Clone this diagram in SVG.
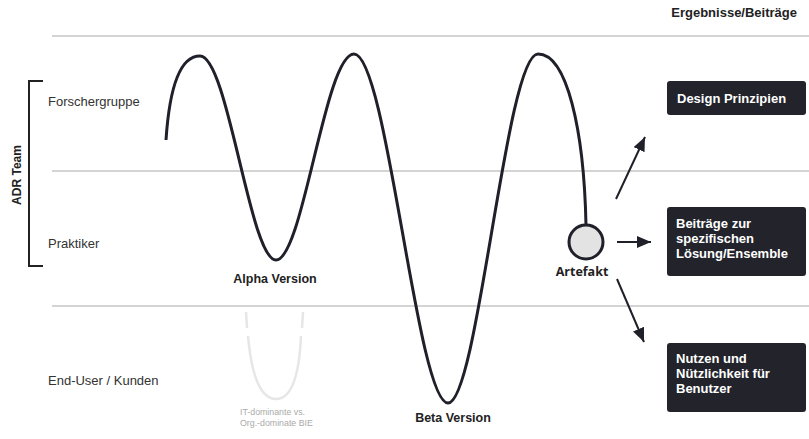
<svg xmlns="http://www.w3.org/2000/svg" width="809" height="439" viewBox="0 0 809 439">
<defs>
<style>
.grid{stroke:#c6c6c6;stroke-width:1.5;fill:none}
.lbl{font-family:"Liberation Sans",Arial,sans-serif;font-size:13px;fill:#333}
.bold{font-family:"Liberation Sans",Arial,sans-serif;font-weight:bold;fill:#222}
.box{fill:#22232b}
.boxt{font-family:"Liberation Sans",Arial,sans-serif;font-weight:bold;font-size:13px;fill:#fff}
.conn{stroke:#1f2029;stroke-width:2;fill:none}
.ghost{stroke:#e6e6e6;stroke-width:2.5;fill:none}
</style>
<marker id="ah" markerUnits="userSpaceOnUse" viewBox="0 0 14 12" refX="14" refY="6" markerWidth="14" markerHeight="12" orient="auto">
<path d="M0,0 L14,6 L0,12 Z" fill="#1f2029"/>
</marker>
</defs>
<rect width="809" height="439" fill="#fff"/>
<g id="grid">
<line class="grid" x1="52" y1="36" x2="809" y2="36"/>
<line class="grid" x1="52" y1="171" x2="809" y2="171"/>
<line class="grid" x1="52" y1="306" x2="809" y2="306"/>
</g>
<text class="bold" x="797" y="17" font-size="13" text-anchor="end">Ergebnisse/Beiträge</text>
<g id="adr-team">
<path d="M43,81 H29 V266 H43" stroke="#222" stroke-width="2" fill="none"/>
<text class="bold" font-size="12" text-anchor="middle" transform="translate(20.5,175) rotate(-90)">ADR Team</text>
</g>
<text class="lbl" x="48" y="106">Forschergruppe</text>
<text class="lbl" x="48" y="248">Praktiker</text>
<text class="lbl" x="48" y="385">End-User / Kunden</text>
<g id="ghost">
<path class="ghost" d="M246,312 L247,328 M303,312 L302,328"/>
<path class="ghost" d="M248,336 C252,380 262,399 276,399 C290,399 299,380 301,336"/>
<text x="240" y="415" font-family="Liberation Sans,Arial,sans-serif" font-size="8.8" fill="#aaa">IT-dominante vs.</text>
<text x="240" y="426" font-family="Liberation Sans,Arial,sans-serif" font-size="8.8" fill="#aaa">Org.-dominate BIE</text>
</g>
<g id="connectors">
<path d="M166,140 C169,95 178,56 200,56 C228,56 250,260 276,260 C303,260 325,54 354,54 C387,54 417,403 448,403 C478,403 506,54 538,54 C567,54 584,130 586,225" stroke="#1f2029" stroke-width="3" fill="none"/>
<line class="conn" x1="616" y1="199" x2="645" y2="137" marker-end="url(#ah)"/>
<line class="conn" x1="617" y1="242" x2="651" y2="242" marker-end="url(#ah)"/>
<line class="conn" x1="617" y1="279" x2="644" y2="342" marker-end="url(#ah)"/>
</g>
<text class="bold" x="275" y="283" font-size="12.5" text-anchor="middle">Alpha Version</text>
<text class="bold" x="453" y="422" font-size="12.5" text-anchor="middle">Beta Version</text>
<g id="artefakt">
<circle cx="586" cy="242" r="17" fill="#e3e3e3" stroke="#1f2029" stroke-width="3"/>
<text x="582" y="276" font-family="Open Sans,sans-serif" font-weight="700" font-size="12.5" fill="#222" text-anchor="middle">Artefakt</text>
</g>
<g id="design-prinzipien">
<rect class="box" x="667" y="81" width="139" height="34" rx="3"/>
<text class="boxt" x="677" y="103">Design Prinzipien</text>
</g>
<g id="beitraege">
<rect class="box" x="667" y="207" width="139" height="69" rx="3"/>
<text class="boxt"><tspan x="676" y="228">Beiträge zur</tspan><tspan x="676" y="243">spezifischen</tspan><tspan x="676" y="258">Lösung/Ensemble</tspan></text>
</g>
<g id="nutzen">
<rect class="box" x="667" y="343" width="139" height="69" rx="3"/>
<text class="boxt"><tspan x="676" y="363">Nutzen und</tspan><tspan x="676" y="378">Nützlichkeit für</tspan><tspan x="676" y="393">Benutzer</tspan></text>
</g>
</svg>
